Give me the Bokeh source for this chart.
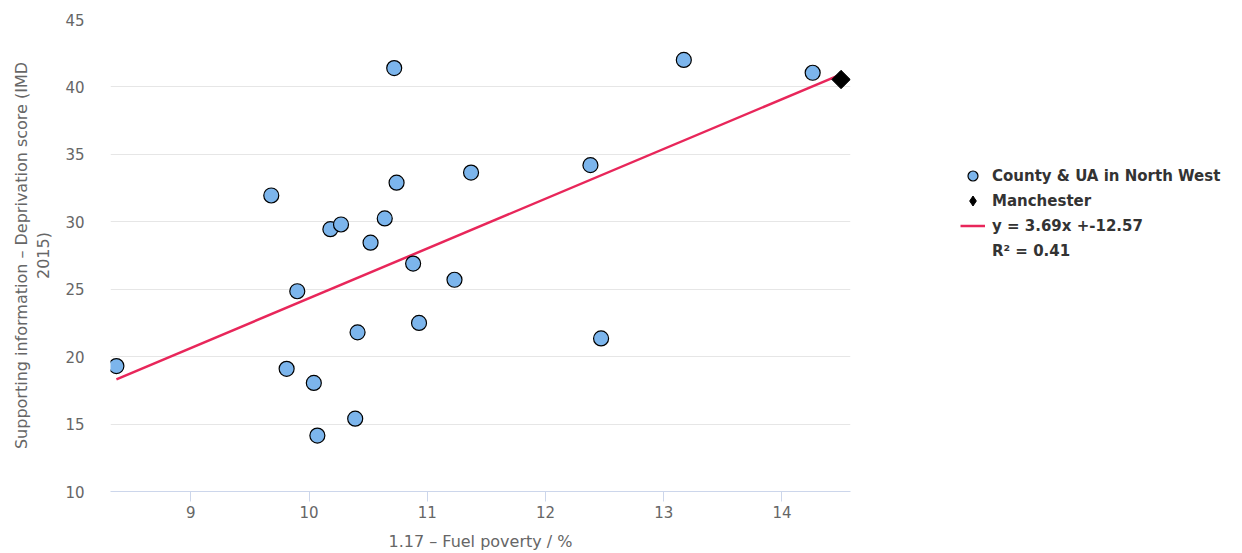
import math
from bokeh.plotting import figure
from bokeh.models import Legend, LegendItem, Range1d, FixedTicker, ColumnDataSource
from bokeh.embed import file_html
from bokeh.resources import INLINE

# Data
fuel_poverty = [8.37, 9.68, 9.90, 9.81, 10.04, 10.07, 10.18, 10.27, 10.41, 10.39,
                10.52, 10.64, 10.74, 10.72, 10.88, 10.93, 11.23, 11.37, 12.38, 12.47,
                13.17, 14.26]
deprivation = [19.3, 31.95, 24.85, 19.1, 18.05, 14.15, 29.45, 29.8, 21.8, 15.4,
               28.45, 30.25, 32.9, 41.4, 26.9, 22.5, 25.7, 33.65, 34.2, 21.35,
               42.0, 41.05]
manchester_x = [14.5]
manchester_y = [40.55]
slope = 3.69
intercept = -12.57
r_squared = 0.41
x_ticks = [9, 10, 11, 12, 13, 14]
y_ticks = [10, 15, 20, 25, 30, 35, 40, 45]

FONT = "DejaVu Sans"

p = figure(width=1234, height=545, output_backend="svg", toolbar_location=None,
           x_range=Range1d(8.32, 14.58), y_range=Range1d(10, 45),
           min_border_left=110, min_border_right=384, min_border_top=19,
           min_border_bottom=54)
p.frame_width = 740
p.frame_height = 472
p.outline_line_color = None
p.background_fill_color = "white"
p.border_fill_color = "white"

# grids
p.xgrid.grid_line_color = None
p.ygrid.grid_line_color = "#e6e6e6"
p.ygrid.grid_line_width = 1

# axes
p.xaxis.ticker = FixedTicker(ticks=x_ticks)
p.yaxis.ticker = FixedTicker(ticks=y_ticks)
p.xaxis.axis_line_color = "#ccd6eb"
p.xaxis.major_tick_line_color = "#ccd6eb"
p.xaxis.major_tick_out = 10
p.xaxis.major_tick_in = 0
p.xaxis.minor_tick_line_color = None
p.xaxis.major_label_standoff = 4
p.xaxis.axis_label = "1.17 \u2013 Fuel poverty / %"
p.xaxis.axis_label_standoff = 11

p.yaxis.axis_line_color = None
p.yaxis.major_tick_line_color = None
p.yaxis.minor_tick_line_color = None
p.yaxis.major_label_standoff = 20
p.yaxis.axis_label = "Supporting information \u2013 Deprivation score (IMD\n2015)"
p.yaxis.axis_label_standoff = 9

for ax in (p.xaxis[0], p.yaxis[0]):
    ax.major_label_text_font = FONT
    ax.major_label_text_font_size = "15px"
    ax.major_label_text_color = "#666666"
    ax.axis_label_text_font = FONT
    ax.axis_label_text_font_size = "16px"
    ax.axis_label_text_font_style = "normal"
    ax.axis_label_text_color = "#666666"

# regression line
x0, x1 = min(fuel_poverty + manchester_x), max(fuel_poverty + manchester_x)
line = p.line([x0, x1], [slope * x0 + intercept, slope * x1 + intercept],
              line_color="#e8265a", line_width=2.5)

src = ColumnDataSource(dict(x=fuel_poverty, y=deprivation))
pts = p.scatter("x", "y", source=src, size=15, fill_color="#7cb5ec",
                line_color="black", line_width=1.2)
# diamond key used by the legend (legend glyphs ignore marker angle); hidden under the square below
man_key = p.scatter(manchester_x, manchester_y, marker="diamond", size=13,
                    fill_color="black", line_color="black")
man = p.scatter(manchester_x, manchester_y, marker="square", size=13, angle=math.pi / 4,
                fill_color="black", line_color="black")
dummy = p.line([], [], line_alpha=0)

legend = Legend(items=[
    LegendItem(label="County & UA in North West", renderers=[pts]),
    LegendItem(label="Manchester", renderers=[man_key]),
    LegendItem(label="y = %.2fx +%.2f" % (slope, intercept), renderers=[line]),
    LegendItem(label="R\u00b2 = %.2f" % r_squared, renderers=[dummy]),
], location=(110, 228))
legend.label_text_font = FONT
legend.label_text_font_size = "15px"
legend.label_text_font_style = "bold"
legend.label_text_color = "#333333"
legend.background_fill_alpha = 0
legend.border_line_color = None
legend.glyph_width = 25
legend.glyph_height = 25
legend.label_height = 18
legend.spacing = 0
legend.label_standoff = 7
legend.padding = 4
legend.margin = 0
p.add_layout(legend, "right")

open("out.html", "w").write(file_html(p, INLINE))
